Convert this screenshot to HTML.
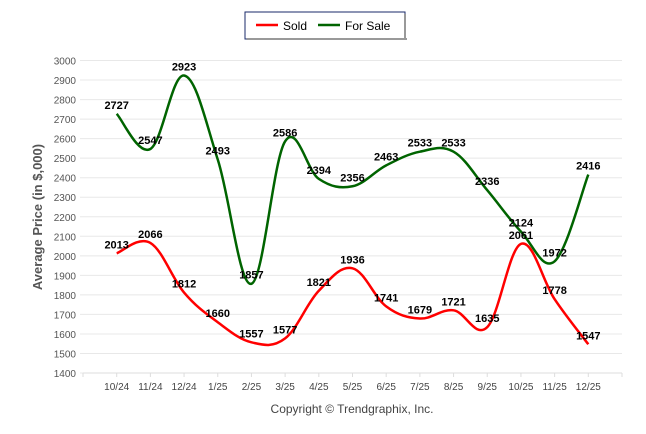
<!DOCTYPE html>
<html><head><meta charset="utf-8"><style>
body{margin:0;background:#fff;width:646px;height:434px;overflow:hidden;font-family:"Liberation Sans",Arial,sans-serif}
svg{display:block}
</style></head><body>
<svg id="chart" width="646" height="434" viewBox="0 0 646 434">
<g>
<rect x="245" y="12" width="160" height="27" fill="#fff" stroke="#1a2a6a" stroke-width="1"/>
<rect x="247" y="38" width="160" height="2" fill="#999"/>
<rect x="404" y="14" width="2" height="26" fill="#999"/>
<line x1="256" y1="25" x2="278" y2="25" stroke="#f00" stroke-width="2.5"/>
<text x="283" y="30" font-size="12" fill="#000">Sold</text>
<line x1="318" y1="25" x2="340" y2="25" stroke="#006400" stroke-width="2.5"/>
<text x="345" y="30" font-size="12" fill="#000">For Sale</text>
</g>
<g id="grid"></g>
<g id="series"></g>
<g id="labels"></g>
<text transform="translate(42,217) rotate(-90)" text-anchor="middle" font-size="13" font-weight="bold" fill="#555">Average Price (in $,000)</text>
<text x="352" y="413" text-anchor="middle" font-size="12" fill="#444">Copyright © Trendgraphix, Inc.</text>
</svg>
<script>
const categories=["10/24","11/24","12/24","1/25","2/25","3/25","4/25","5/25","6/25","7/25","8/25","9/25","10/25","11/25","12/25"];
const sold=[2013,2066,1812,1660,1557,1577,1821,1936,1741,1679,1721,1635,2061,1778,1547];
const forSale=[2727,2547,2923,2493,1857,2586,2394,2356,2463,2533,2533,2336,2124,1972,2416];
const yTicks=[1400,1500,1600,1700,1800,1900,2000,2100,2200,2300,2400,2500,2600,2700,2800,2900,3000];
const NS="http://www.w3.org/2000/svg";
const x0=83,x1=622,yTop=60.5,yBot=373,vMin=1400,vMax=3000;
const step=(x1-x0)/16;
function xs(i){return x0+step*(i+1);}
function ys(v){return yBot-(v-vMin)/(vMax-vMin)*(yBot-yTop);}
function mk(tag,attrs,parent){const e=document.createElementNS(NS,tag);for(const k in attrs)e.setAttribute(k,attrs[k]);parent.appendChild(e);return e;}
const grid=document.getElementById('grid');
yTicks.forEach(v=>{
 const l=mk('line',{x1:80,x2:x1,y1:ys(v),y2:ys(v),stroke:'#e8e8e8','stroke-width':1},grid);
 
 
 const t=mk('text',{x:76,y:ys(v)+4,'text-anchor':'end','font-size':10,fill:'#555'},grid);
 t.textContent=v;
 
 
});
mk('line',{x1:x0,x2:x1,y1:yBot,y2:yBot,stroke:'#ddd'},grid);
for(let i=0;i<=16;i++){mk('line',{x1:x0+step*i,x2:x0+step*i,y1:yBot,y2:yBot+4,stroke:'#ddd'},grid);}
categories.forEach((c,i)=>{
 const t=mk('text',{x:xs(i),y:390,'text-anchor':'middle','font-size':10,fill:'#444'},grid);
 t.textContent=c;
 
 
});
function path(vals){
 const p=vals.map((v,i)=>[xs(i),ys(v)]);
 let d=`M${p[0][0]},${p[0][1]}`;
 for(let i=0;i<p.length-1;i++){
  const a=p[i-1]||p[i],b=p[i],c=p[i+1],e=p[i+2]||c;
  const t=0.18;
  d+=` C${b[0]+(c[0]-a[0])*t},${b[1]+(c[1]-a[1])*t} ${c[0]-(e[0]-b[0])*t},${c[1]-(e[1]-b[1])*t} ${c[0]},${c[1]}`;
 }
 return d;
}
const ser=document.getElementById('series'),lab=document.getElementById('labels');
[[forSale,'#006400','for-sale-line'],[sold,'#f00','sold-line']].forEach(([vals,col,name])=>{
 const p=mk('path',{d:path(vals),fill:'none',stroke:col,'stroke-width':2.5},ser);
 
 
 vals.forEach((v,i)=>{
  const t=mk('text',{x:xs(i),y:ys(v)-5,'text-anchor':'middle','font-size':11,'font-weight':'bold',fill:'#000'},lab);
  t.textContent=v;
  
  
 });
});
</script>
</body></html>
